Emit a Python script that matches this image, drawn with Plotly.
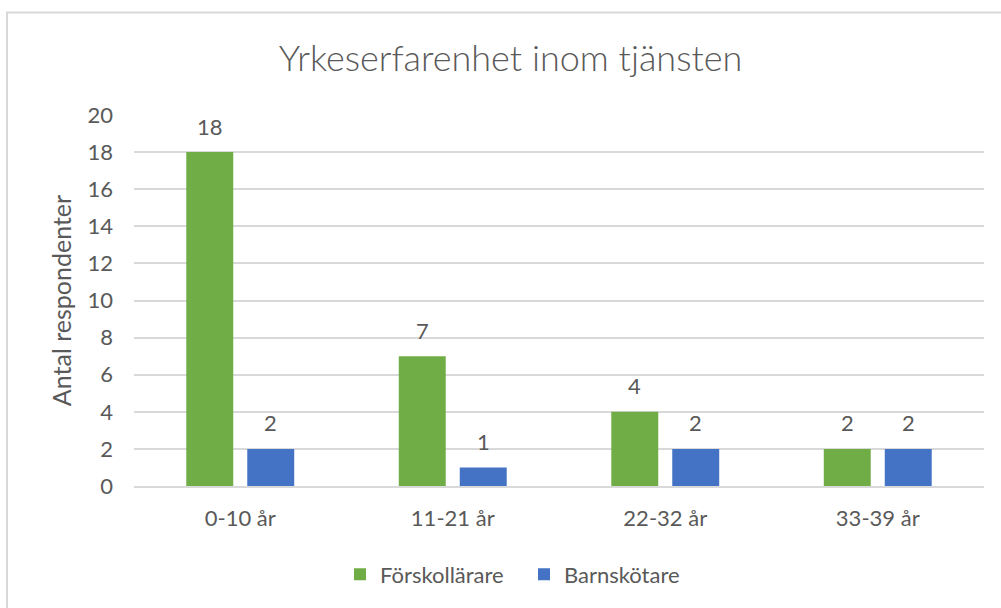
import plotly.graph_objects as go

categories = ["0-10 år", "11-21 år", "22-32 år", "33-39 år"]
forskollarare = [18, 7, 4, 2]
barnskotare = [2, 1, 2, 2]
series_names = ["Förskollärare", "Barnskötare"]
title_text = "Yrkeserfarenhet inom tjänsten"
y_title = "Antal respondenter"
y_ticks = list(range(0, 21, 2))

GREEN = "#70AD47"
BLUE = "#4472C4"
TXT = "#595959"
FONT = "Lato"

fig = go.Figure()
fig.add_trace(go.Bar(x=categories, y=forskollarare, name=series_names[0],
                     marker=dict(color=GREEN, line=dict(width=0))))
fig.add_trace(go.Bar(x=categories, y=barnskotare, name=series_names[1],
                     marker=dict(color=BLUE, line=dict(width=0))))

annotations = []
for vals, shift in ((forskollarare, -30.5), (barnskotare, 30.5)):
    for c, v in zip(categories, vals):
        annotations.append(dict(x=c, y=v, xref="x", yref="y", text=str(v),
                                showarrow=False, xshift=shift, yshift=26,
                                font=dict(family=FONT, size=22, color=TXT)))

L, R, T, B = 134, 17, 115, 120
W, H = 1001, 608
pw = W - L - R
ph = H - T - B
# chart border (outer frame)
x0 = (7 - L) / pw
y1 = 1 + (T - 12) / ph
fig.add_shape(type="rect", xref="paper", yref="paper",
              x0=x0, x1=(W + 10 - L) / pw, y0=-(B + 10) / ph, y1=y1,
              line=dict(color="#D9D9D9", width=2), fillcolor="rgba(0,0,0,0)",
              layer="below")

fig.update_layout(
    width=W, height=H,
    margin=dict(l=L, r=R, t=T, b=B),
    paper_bgcolor="white", plot_bgcolor="white",
    barmode="group", bargap=0.426, bargroupgap=0.23,
    title=dict(text=title_text, x=0.51, xanchor="center", y=1 - 58 / H, yanchor="middle",
               font=dict(family=FONT, size=36, color=TXT, weight=300)),
    font=dict(family=FONT, color=TXT, size=22),
    xaxis=dict(showgrid=False, showline=True, linecolor="#D9D9D9", linewidth=2,
               ticks="", tickfont=dict(size=22, color=TXT), ticklabelstandoff=12),
    yaxis=dict(range=[0, 20], tickvals=y_ticks, showgrid=True, gridcolor="#D9D9D9",
               gridwidth=2, zeroline=False, showline=False, ticks="",
               tickfont=dict(size=22, color=TXT), ticklabelstandoff=20,
               title=dict(text=y_title, font=dict(size=25, color=TXT), standoff=8)),
    legend=dict(orientation="h", x=(340 - L) / pw, xanchor="left", y=-(577 - 488) / ph,
                yanchor="middle", font=dict(size=22, color=TXT), itemwidth=30,
                entrywidth=139, entrywidthmode="pixels",
                traceorder="normal"),
    annotations=annotations,
    showlegend=True,
)

fig.write_html("out.html", post_script="document.body.style.margin='0px';",
               config={"displayModeBar": False})
